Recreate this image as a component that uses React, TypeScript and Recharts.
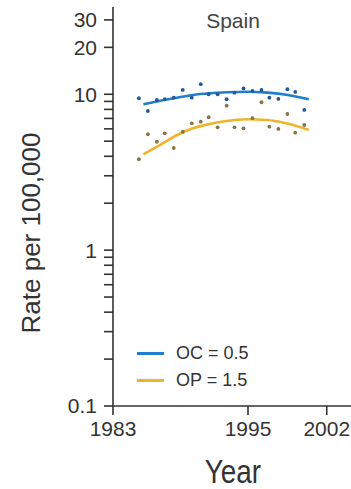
import { ComposedChart, XAxis, YAxis, Scatter, Line } from "recharts";

// Spain: observed rates (points) and fitted trends (lines), log scale
const years = [
  1985.3, 1986.1, 1986.9, 1987.6, 1988.4, 1989.2, 1990.0, 1990.8, 1991.5, 1992.3,
  1993.1, 1993.8, 1994.6, 1995.4, 1996.2, 1996.9, 1997.7, 1998.5, 1999.2, 2000.0,
];
const ocRates = [
  9.43, 7.81, 9.19, 9.29, 9.51, 10.66, 9.51, 11.6, 10.0, 10.0,
  9.29, 10.24, 10.9, 10.5, 10.66, 9.51, 9.33, 10.77, 10.35, 7.93,
];
const opRates = [
  3.83, 5.54, 4.96, 5.62, 4.52, 5.75, 6.51, 6.67, 7.12, 6.14,
  8.45, 6.14, 6.05, 7.02, 8.89, 6.2, 5.99, 7.47, 5.67, 6.35,
];
const fitYears = [1985.7, 1987.2, 1988.7, 1990.1, 1991.6, 1993.1, 1994.9, 1996.7, 1998.4, 2000.4];
const ocFit = [8.63, 9.1, 9.51, 9.9, 10.15, 10.3, 10.39, 10.24, 9.94, 9.29];
const opFit = [4.12, 4.73, 5.48, 6.05, 6.45, 6.74, 6.91, 6.84, 6.51, 5.9];

const xTicks = [1983, 1995, 2002];
const yTicks = [
  0.1, 0.2, 0.3, 0.4, 0.5, 0.6, 0.7, 0.8, 0.9,
  1, 2, 3, 4, 5, 6, 7, 8, 9, 10, 20, 30,
];
const yLabels = [0.1, 1, 10, 20, 30];

const ocColor = "#1f7fcc";
const opColor = "#f0b42c";
const ink = "#333";

const ocPoints = years.map((year, i) => ({ year, rate: ocRates[i] }));
const opPoints = years.map((year, i) => ({ year, rate: opRates[i] }));
const ocLine = fitYears.map((year, i) => ({ year, rate: ocFit[i] }));
const opLine = fitYears.map((year, i) => ({ year, rate: opFit[i] }));

const dot = (fill: string) => (props: any) =>
  <circle cx={props.cx} cy={props.cy} r={1.9} fill={fill} />;

const font = "'Liberation Sans', Arial, Helvetica, sans-serif";

export default function App() {
  return (
    <div style={{ position: "absolute", left: 0, top: 0, width: 351, height: 489, overflow: "hidden", background: "#fff", fontFamily: font }}>
      <ComposedChart width={368} height={489} margin={{ top: 7, right: 7.5, left: 0, bottom: 0 }}>
        <XAxis
          type="number"
          dataKey="year"
          domain={[1983, 2005]}
          allowDataOverflow
          ticks={xTicks}
          interval={0}
          height={83}
          tickSize={9}
          tickMargin={6}
          stroke={ink}
          strokeWidth={1.6}
          tick={{ fill: ink, fontSize: 21, fontFamily: font }}
        />
        <YAxis
          scale="log"
          domain={[0.1, 36.3]}
          allowDataOverflow
          ticks={yTicks}
          interval={0}
          width={113}
          tickSize={9}
          tickMargin={7}
          stroke={ink}
          strokeWidth={1.6}
          tick={{ fill: ink, fontSize: 21, fontFamily: font }}
          tickFormatter={(v: number) => (yLabels.includes(v) ? String(v) : "")}
        />
        <Line data={ocLine} dataKey="rate" type="monotone" stroke={ocColor} strokeWidth={2.6} dot={false} isAnimationActive={false} />
        <Line data={opLine} dataKey="rate" type="monotone" stroke={opColor} strokeWidth={2.6} dot={false} isAnimationActive={false} />
        <Scatter data={ocPoints} dataKey="rate" shape={dot("#24579a")} isAnimationActive={false} />
        <Scatter data={opPoints} dataKey="rate" shape={dot("#857446")} isAnimationActive={false} />
      </ComposedChart>

      <div style={{ position: "absolute", left: 183, top: 9, width: 100, textAlign: "center", fontSize: 21, color: "#444" }}>
        Spain
      </div>

      <div style={{ position: "absolute", left: 133, top: 340, fontSize: 18, color: ink, lineHeight: "27px" }}>
        {[{ c: ocColor, t: "OC = 0.5" }, { c: opColor, t: "OP = 1.5" }].map((e) => (
          <div key={e.t} style={{ display: "flex", alignItems: "center" }}>
            <span style={{ display: "inline-block", width: 27, height: 3, background: e.c, marginLeft: 4, marginRight: 12 }} />
            <span>{e.t}</span>
          </div>
        ))}
      </div>

      <div style={{ position: "absolute", left: 133, top: 452, width: 200, textAlign: "center", fontSize: 34, color: ink, transform: "scaleX(0.82)" }}>
        Year
      </div>

      <div style={{ position: "absolute", left: 31, top: 233, width: 240, marginLeft: -120, marginTop: -16, height: 32, lineHeight: "32px", textAlign: "center", fontSize: 26, color: ink, transform: "rotate(-90deg)" }}>
        Rate per 100,000
      </div>
    </div>
  );
}
